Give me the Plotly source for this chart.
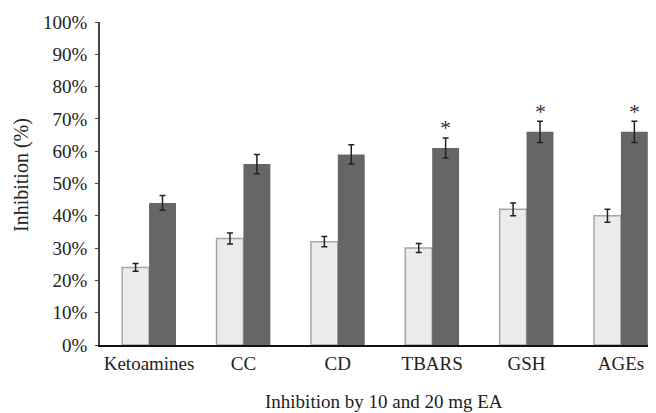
import plotly.graph_objects as go

categories = ["Ketoamines", "CC", "CD", "TBARS", "GSH", "AGEs"]
dose10 = [24, 33, 32, 30, 42, 40]
dose10_err = [1.2, 1.7, 1.6, 1.4, 2.0, 2.0]
dose20 = [44, 56, 59, 61, 66, 66]
dose20_err = [2.3, 3.0, 3.0, 3.1, 3.3, 3.3]
significant = [False, False, False, True, True, True]
y_ticks = list(range(0, 101, 10))

font_family = "Liberation Serif, Times New Roman, serif"
FS = 19

# figure is placed with an 8px page margin, so sizes are reduced accordingly
W, H = 648, 405
ML, MR, MT, MB = 92, 3, 14, 68
PW, PH = W - ML - MR, H - MT - MB

fig = go.Figure()
fig.add_trace(go.Bar(
    x=categories, y=dose10, name="10 mg EA",
    marker=dict(color="#ebebeb", line=dict(color="#a6a6a6", width=1.5)),
    error_y=dict(type="data", array=dose10_err, color="#222222", thickness=1.5, width=3),
))
fig.add_trace(go.Bar(
    x=categories, y=dose20, name="20 mg EA",
    marker=dict(color="#666666", line=dict(width=0)),
    error_y=dict(type="data", array=dose20_err, color="#222222", thickness=1.5, width=3),
))

for i, (c, v, e, s) in enumerate(zip(categories, dose20, dose20_err, significant)):
    if s:
        fig.add_annotation(x=i, y=v + e, xshift=13.5, yshift=10, text="*", showarrow=False,
                           font=dict(family=font_family, size=22, color="#333333"),
                           xref="x", yref="y", yanchor="middle")

# x-axis title
fig.add_annotation(x=(376 - ML) / PW, y=-(393 - (MT + PH)) / PH, xref="paper", yref="paper",
                   text="Inhibition by 10 and 20 mg EA", showarrow=False, yanchor="middle",
                   font=dict(family=font_family, size=FS, color="#222222"))
# y-axis title
fig.add_annotation(x=-(ML - 13) / PW, y=(MT + PH - 167) / PH, xref="paper", yref="paper",
                   text="Inhibition (%)", showarrow=False, textangle=-90,
                   xanchor="center", yanchor="middle",
                   font=dict(family=font_family, size=20, color="#222222"))

fig.update_layout(
    width=W, height=H,
    margin=dict(l=ML, r=MR, t=MT, b=MB),
    paper_bgcolor="white", plot_bgcolor="white",
    barmode="group", bargap=0.43, bargroupgap=0,
    showlegend=False,
    font=dict(family=font_family, size=FS, color="#222222"),
    xaxis=dict(
        range=[-0.52, 5.34], automargin=False,
        showline=True, linecolor="#111111", linewidth=1.5,
        ticks="", showgrid=False,
        tickfont=dict(family=font_family, size=FS, color="#222222"),
    ),
    yaxis=dict(
        range=[0, 100], tickvals=y_ticks, ticktext=[f"{t}%" for t in y_ticks], automargin=False,
        showline=True, linecolor="#444444", linewidth=1.5,
        ticks="outside", ticklen=3, tickcolor="#444444", showgrid=False, zeroline=False,
        ticklabelstandoff=4,
        tickfont=dict(family=font_family, size=FS, color="#222222"),
    ),
)

fig.write_html("out.html")
